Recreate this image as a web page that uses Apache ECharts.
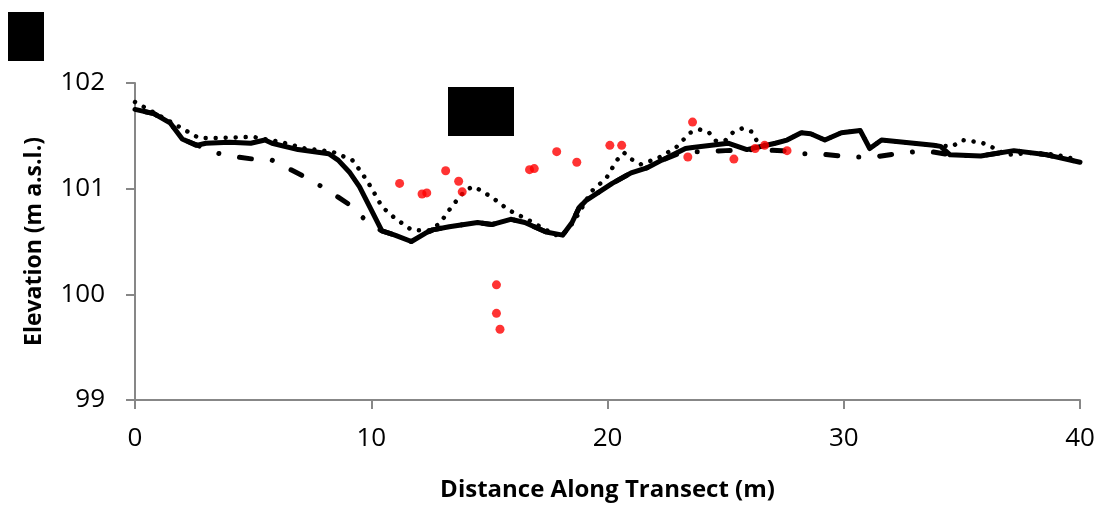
<!DOCTYPE html>
<html>
<head>
<meta charset="utf-8">
<script src="https://cdn.jsdelivr.net/npm/echarts@6/dist/echarts.min.js"></script>
<style>
	html, body { margin: 0; padding: 0; background: #fff; }
	#chart { width: 1110px; height: 507px; }
</style>
</head>
<body>
<div id="chart"></div>
<script>
// surveyed profiles, [distance m, elevation m a.s.l.]
var solidLine = [
	[0, 101.75], [0.8, 101.71], [1.5, 101.62], [2.0, 101.47], [2.6, 101.41], [3.0, 101.43],
	[4.0, 101.44], [4.9, 101.43], [5.5, 101.46], [5.8, 101.43], [6.9, 101.37], [8.2, 101.33],
	[8.6, 101.27], [9.1, 101.15], [9.5, 101.02], [10.0, 100.80], [10.45, 100.60], [11.0, 100.56],
	[11.7, 100.50], [12.3, 100.58], [12.6, 100.61], [13.3, 100.64], [14.5, 100.68], [15.1, 100.66],
	[15.9, 100.71], [16.5, 100.68], [17.4, 100.59], [18.1, 100.56], [18.5, 100.68], [18.8, 100.82],
	[19.1, 100.89], [20.2, 101.05], [21.0, 101.15], [21.7, 101.20], [22.3, 101.27], [23.3, 101.38],
	[23.6, 101.39], [24.4, 101.41], [25.1, 101.43], [25.9, 101.37], [27.1, 101.43], [27.6, 101.46],
	[28.2, 101.53], [28.6, 101.52], [29.2, 101.46], [29.9, 101.53], [30.7, 101.55], [31.1, 101.38],
	[31.6, 101.46], [33.8, 101.41], [34.1, 101.40], [34.5, 101.32], [35.8, 101.31], [37.2, 101.36],
	[38.6, 101.32], [40, 101.25]
];

var dottedLine = [
	[0, 101.82], [0.8, 101.72], [1.6, 101.62], [2.7, 101.48], [3.5, 101.48], [5.0, 101.49],
	[6.2, 101.44], [7.2, 101.38], [8.35, 101.35], [9.2, 101.27], [9.6, 101.15], [10.0, 101.01],
	[10.45, 100.83], [11.0, 100.72], [11.7, 100.61], [12.4, 100.60], [12.9, 100.67], [13.4, 100.83],
	[14.0, 100.99], [14.35, 101.02], [15.1, 100.92], [15.8, 100.80], [16.6, 100.71], [17.0, 100.66],
	[17.8, 100.56], [18.3, 100.60], [18.8, 100.77], [19.3, 100.97], [19.95, 101.10], [20.4, 101.27],
	[20.7, 101.34], [21.0, 101.28], [21.4, 101.23], [22.15, 101.29], [22.9, 101.39], [23.5, 101.53],
	[23.9, 101.56], [24.3, 101.53], [24.6, 101.45], [25.0, 101.46], [25.3, 101.53], [25.7, 101.57],
	[26.1, 101.54], [26.3, 101.46], [26.7, 101.41], [27.1, 101.43], [27.6, 101.46], [28.2, 101.53],
	[28.6, 101.52], [29.2, 101.46], [29.9, 101.53], [30.7, 101.55], [31.1, 101.38], [31.6, 101.46],
	[33.8, 101.41], [34.6, 101.40], [35.0, 101.46], [35.4, 101.45], [35.9, 101.43], [36.3, 101.39],
	[36.9, 101.32], [38.0, 101.34], [39.0, 101.32], [40, 101.27]
];

var dashDotLine = [
	[0, 101.75], [0.8, 101.71], [1.5, 101.62], [2.0, 101.47], [3.4, 101.34], [4.3, 101.30],
	[5.0, 101.28], [5.8, 101.27], [6.5, 101.19], [7.2, 101.11], [7.9, 101.02], [8.6, 100.92],
	[9.2, 100.83], [9.8, 100.69], [10.45, 100.60], [11.0, 100.56], [11.7, 100.50], [12.3, 100.58],
	[12.6, 100.61], [13.3, 100.64], [14.5, 100.68], [15.1, 100.66], [15.9, 100.71], [16.5, 100.68],
	[17.4, 100.59], [18.1, 100.56], [18.5, 100.68], [18.8, 100.82], [19.1, 100.89], [20.2, 101.05],
	[21.0, 101.15], [21.7, 101.20], [22.3, 101.27], [23.0, 101.33], [23.5, 101.35], [24.2, 101.35],
	[25.0, 101.36], [26.0, 101.37], [27.4, 101.36], [28.2, 101.33], [29.0, 101.33], [29.8, 101.31],
	[30.6, 101.30], [31.3, 101.30], [32.2, 101.33], [33.0, 101.35], [33.7, 101.35], [34.5, 101.32],
	[35.8, 101.31], [37.2, 101.36], [38.6, 101.32], [40, 101.25]
];

var redPoints = [
	[11.2, 101.05], [12.15, 100.95], [12.35, 100.96], [13.15, 101.17], [13.7, 101.07], [13.85, 100.97],
	[15.3, 100.09], [15.3, 99.82], [15.45, 99.67], [16.7, 101.18], [16.9, 101.19], [17.85, 101.35],
	[18.7, 101.25], [20.1, 101.41], [20.6, 101.41], [23.6, 101.63], [23.4, 101.30], [25.35, 101.28],
	[26.25, 101.38], [26.65, 101.41], [27.6, 101.36]
];

var xTicks = [0, 40, 10];     // min, max, step
var yTicks = [99, 102, 1];

var axisGray = '#878787';
var labelFont = "'Open Sans', sans-serif";

var myChart = echarts.init(document.getElementById('chart'));
var option = {
	animation: false,
	backgroundColor: '#fff',
	grid: { left: 135, right: 30, top: 83, bottom: 106 },
	xAxis: {
		type: 'value',
		min: xTicks[0], max: xTicks[1], interval: xTicks[2],
		name: 'Distance Along Transect (m)',
		nameLocation: 'middle',
		nameGap: 78,
		nameTextStyle: { fontFamily: labelFont, fontWeight: 'bold', fontSize: 24, color: '#000' },
		axisLine: { lineStyle: { color: axisGray, width: 2 } },
		axisTick: { length: 9, lineStyle: { color: axisGray, width: 2 } },
		axisLabel: { fontFamily: labelFont, fontSize: 26, color: '#000', margin: 26 },
		splitLine: { show: false }
	},
	yAxis: {
		type: 'value',
		min: yTicks[0], max: yTicks[1], interval: yTicks[2],
		name: 'Elevation (m a.s.l.)',
		nameLocation: 'middle',
		nameGap: 89,
		nameRotate: 90,
		nameTextStyle: { fontFamily: labelFont, fontWeight: 'bold', fontSize: 23, color: '#000' },
		axisLine: { show: true, lineStyle: { color: axisGray, width: 2 } },
		axisTick: { show: true, length: 9, lineStyle: { color: axisGray, width: 2 } },
		axisLabel: { fontFamily: labelFont, fontSize: 26, color: '#000', margin: 30 },
		splitLine: { show: false }
	},
	graphic: [
		{ type: 'rect', shape: { x: 8, y: 12, width: 36, height: 49 }, style: { fill: '#000' }, z: 100 },
		{ type: 'rect', shape: { x: 448, y: 87, width: 66, height: 49 }, style: { fill: '#000' }, z: 100 }
	],
	series: [
		{
			type: 'line', data: dashDotLine, showSymbol: false, z: 2,
			lineStyle: { color: '#000', width: 5, type: [12, 21, 0.01, 21], dashOffset: 43.4, cap: 'round' }
		},
		{
			type: 'line', data: dottedLine, showSymbol: false, z: 3,
			lineStyle: { color: '#000', width: 4.5, type: [0.01, 10], cap: 'round' }
		},
		{
			type: 'line', data: solidLine, showSymbol: false, z: 4,
			lineStyle: { color: '#000', width: 5, cap: 'round', join: 'round' }
		},
		{
			type: 'scatter', data: redPoints, z: 5,
			symbol: 'circle', symbolSize: 9,
			itemStyle: { color: '#ff0000' }
		}
	]
};
myChart.setOption(option);
</script>
</body>
</html>
